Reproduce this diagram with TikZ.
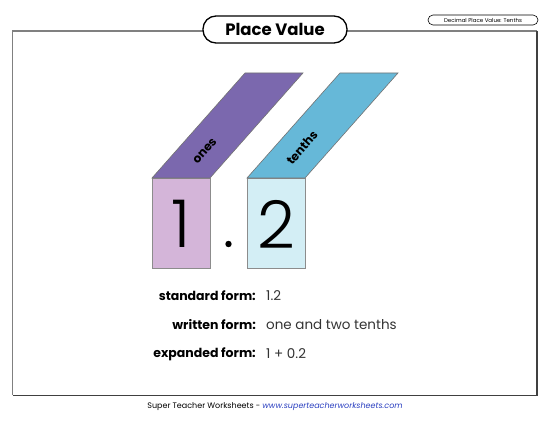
\documentclass[tikz,border=0pt]{standalone}
\usepackage{fontspec}
\setmainfont{Poppins}
\newfontfamily\thinfont{Poppins}[UprightFont=* Light]
\usetikzlibrary{positioning}
\definecolor{onestop}{HTML}{7B68AE}
\definecolor{onesfront}{HTML}{D4B5D9}
\definecolor{tenthstop}{HTML}{66B8D8}
\definecolor{tenthsfront}{HTML}{D3EEF5}
\definecolor{linkblue}{HTML}{2A3FC0}

\begin{document}
\begin{tikzpicture}[
    x=1pt, y=-1pt,
    face/.style={draw=black!45, line width=0.8pt},
    lid/.style={draw=black!55, line width=0.6pt},
    digit/.style={font=\thinfont\fontsize{66}{66}\selectfont, inner sep=0},
    lbl/.style={font=\fontsize{12.5}{15}\selectfont\bfseries, anchor=east, inner sep=0},
    val/.style={font=\fontsize{13.5}{15}\selectfont, anchor=west, inner sep=0, text=black!80}
]
\useasboundingbox (0,0) rectangle (550,425);
% frame
\draw[black!50, line width=1.2pt] (12.5,395.5) -- (12.5,31) -- (537,31);
\draw[black!75, line width=1.2pt] (537,31) -- (537,395.5) -- (12.5,395.5);
\node [draw, fill=white, rounded corners=13pt, line width=1.3pt, minimum width=144pt, minimum height=27pt, font=\fontsize{16.5}{18}\selectfont\bfseries] (title) at (275,29.5) {Place Value};
\node [draw, rounded corners=5pt, line width=0.6pt, minimum width=110pt, minimum height=10pt, inner sep=0, font=\fontsize{5.5}{6}\selectfont] (tag) at (483,20) {Decimal Place Value: Tenths};

% ones column
\draw[face, fill=onesfront] (152,178) rectangle (210,268);
\draw[lid, fill=onestop] (152,178) -- (210,178) -- (303,73) -- (245,73) -- cycle;
\node [digit] (d1) at (181,224) {1};
\node [rotate=48.5, font=\fontsize{12}{14}\selectfont\bfseries] (ones) at (205,151) {ones};

% tenths column
\draw[face, fill=tenthsfront] (247,178) rectangle (305,268);
\draw[lid, fill=tenthstop] (247,178) -- (305,178) -- (398,73) -- (340,73) -- cycle;
\node [digit] (d2) at (276,224) {2};
\node [rotate=48.5, font=\fontsize{12}{14}\selectfont\bfseries] (tenths) at (302,148) {tenths};

\fill (228.5,244) circle (3.2);

% forms
\node [lbl] (std) at (256,296) {standard form:};
\node [val] (stdv) at (266,296) {1.2};
\node [lbl] (wrt) at (256,325) {written form:};
\node [val] (wrtv) at (266,325) {one and two tenths};
\node [lbl] (exp) at (256,354) {expanded form:};
\node [val] (expv) at (266,354) {1 + 0.2};

\node [font=\fontsize{8}{9}\selectfont] (foot) at (275,407) {Super Teacher Worksheets - {\color{linkblue}\itshape www.superteacherworksheets.com}};
\end{tikzpicture}
\end{document}
